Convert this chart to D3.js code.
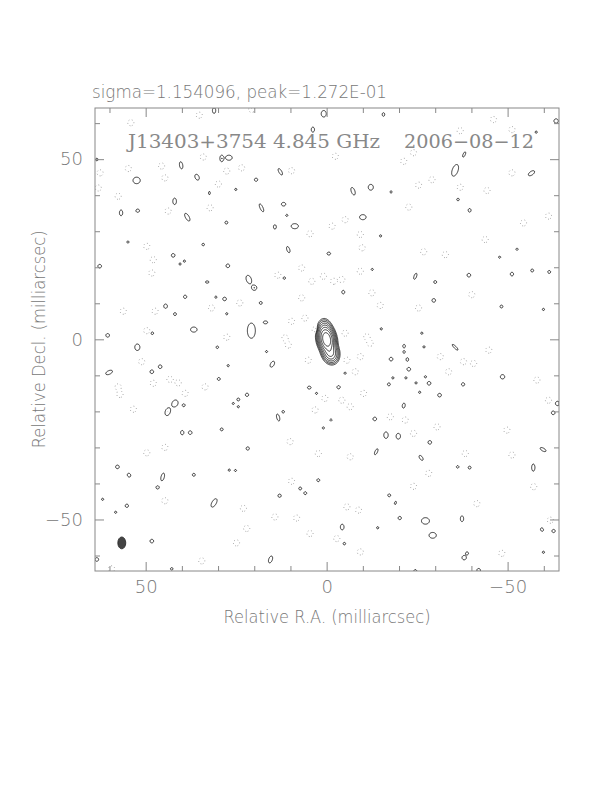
<!DOCTYPE html>
<html>
<head>
<meta charset="utf-8">
<script src="https://cdn.jsdelivr.net/npm/d3@7"></script>
<style>
  body { margin: 0; background: #fff; }
</style>
</head>
<body>
<div id="chart"></div>
<script>
// ---- chart data (milliarcsec) ----
const titleText = "sigma=1.154096, peak=1.272E-01";
const sourceName = "J13403+3754 4.845 GHz";
const obsDate = "2006\u221208\u221212";
const xLabel = "Relative R.A. (milliarcsec)";
const yLabel = "Relative Decl. (milliarcsec)";

const raRange = [64.0, -64.2];
const decRange = [-64.3, 64.2];
const majorTicks = [-50, 0, 50];
const minorTicks = [-60, -40, -30, -20, -10, 10, 20, 30, 40, 60];

// contour levels, as multiples of the lowest level (peak = 1)
const lowestLevel = 1 / 256;
const levelSteps = [1, 2, 4, 8, 16, 32, 64, 128];

// source model: [ra, dec, amplitude, sigma minor, sigma major, pa deg]
const sourceComps = [
  [0.0, 0.0, 1.0, 0.9, 1.5, -12],
  [-1.0, -3.6, 0.18, 0.95, 1.3, -15],
  [0.4, 2.8, 0.05, 0.85, 1.3, -10]
];

// positive noise islands: [ra, dec, half width, half height, tilt deg]
const posBlobs = [
  [31.1, 63.5, 0.45, 0.8, 0], [0.8, 62.6, 0.7, 0.9, 0], [3.8, 58.2, 0.45, 0.7, 0],
  [29.0, 50.2, 0.5, 0.9, 0], [27.0, 50.4, 0.9, 0.7, 0], [40.2, 48.3, 0.45, 1.0, -10],
  [12.8, 46.5, 0.4, 1.0, -30], [52.5, 44.1, 1.0, 0.9, 0], [35.8, 45.0, 0.55, 0.85, -25],
  [19.5, 44.3, 0.45, 0.45, 0], [42.0, 38.3, 0.5, 0.9, 0], [11.9, 37.5, 0.6, 0.5, 0],
  [18.0, 36.5, 0.4, 1.2, -25], [56.8, 35.1, 0.45, 0.8, 0], [52.2, 35.7, 0.5, 0.45, 0],
  [38.5, 33.9, 0.5, 1.2, -30], [27.7, 32.4, 0.4, 0.4, 0], [14.3, 31.2, 0.4, 0.6, 0],
  [8.8, 31.4, 1.0, 0.7, 0], [10.6, 24.9, 0.4, 0.9, -20], [34.1, 26.3, 0.35, 0.35, 0],
  [42.4, 23.3, 0.5, 0.5, 0], [27.3, 20.4, 0.5, 0.5, 0], [21.5, 16.6, 0.7, 1.2, -20],
  [20.0, 14.3, 0.7, 0.7, 0], [33.0, 15.9, 0.5, 0.3, 0], [11.7, 17.0, 0.35, 0.35, 0],
  [39.1, 11.8, 0.45, 0.45, 0], [28.2, 11.2, 0.5, 0.5, 0], [18.2, 10.1, 0.4, 0.4, 0],
  [44.5, 9.2, 0.5, 0.6, 0], [41.9, 7.0, 0.4, 0.4, 0], [16.9, 4.7, 0.6, 0.4, 0],
  [36.7, 2.7, 0.9, 0.7, 0], [20.8, 2.4, 1.1, 2.1, 0], [60.5, 1.1, 0.5, 0.5, 0],
  [48.2, 1.7, 0.4, 0.4, 0], [62.7, 20.3, 0.5, 0.5, 0], [54.9, 27.0, 0.3, 0.3, 0],
  [25.1, 41.6, 0.3, 0.3, 0], [39.3, 21.7, 0.3, 0.3, 0], [40.5, 20.9, 0.3, 0.3, 0],
  [30.6, 11.7, 0.3, 0.3, 0], [27.6, 7.1, 0.3, 0.3, 0], [11.0, 34.4, 0.3, 0.3, 0],
  [63.5, 49.9, 0.35, 0.35, 0], [32.4, 40.6, 0.25, 0.45, 0],

  [-15.7, 62.4, 0.35, 0.5, 0], [-57.9, 57.5, 0.3, 0.3, 0], [-38.0, 51.3, 0.3, 0.8, 25],
  [-35.5, 46.9, 0.8, 1.7, 20], [-56.6, 46.1, 0.5, 1.0, 55], [-7.3, 41.1, 0.5, 1.1, -20],
  [-12.2, 42.2, 0.7, 0.8, 0], [-17.8, 40.9, 0.3, 0.3, 0], [-36.3, 38.8, 0.35, 0.35, 0],
  [-39.5, 35.8, 0.4, 0.5, 0], [-10.0, 33.9, 0.9, 0.7, 0], [-14.9, 28.7, 0.3, 0.3, 0],
  [-0.6, 23.8, 0.5, 0.4, 0], [-12.6, 19.4, 0.3, 0.3, 0], [-24.5, 17.5, 0.35, 0.9, 20],
  [-39.3, 17.8, 0.5, 0.5, 0], [-51.2, 18.1, 0.45, 0.5, 0], [-56.8, 19.1, 0.4, 0.4, 0],
  [-61.5, 18.7, 0.4, 0.4, 0], [-30.0, 15.9, 0.4, 0.4, 0], [-4.6, 13.1, 0.4, 0.5, 0],
  [-29.6, 10.8, 0.5, 0.5, 0], [-48.3, 9.1, 0.4, 0.4, 0], [-52.6, 25.0, 0.3, 0.3, 0],
  [-47.8, 22.8, 0.3, 0.3, 0], [-59.9, 8.3, 0.3, 0.3, 0], [-15.1, 2.9, 0.3, 0.3, 0],
  [-26.3, 1.7, 0.3, 0.3, 0], [-63.4, 60.6, 0.6, 0.6, 0],

  [52.3, -2.2, 0.7, 0.9, 0], [30.2, -2.2, 0.35, 0.35, 0], [60.1, -9.2, 0.5, 1.0, 65],
  [48.3, -9.0, 0.5, 0.5, 0], [46.0, -7.6, 0.5, 0.5, 0], [15.0, -6.9, 0.5, 0.9, 30],
  [29.8, -11.0, 0.4, 0.4, 0], [41.9, -17.8, 0.8, 1.0, 30], [43.9, -20.1, 0.7, 1.1, 20],
  [39.5, -18.3, 0.4, 0.4, 0], [22.0, -15.4, 0.45, 0.45, 0], [24.4, -16.7, 0.4, 0.4, 0],
  [25.8, -17.8, 0.3, 0.3, 0], [24.4, -18.7, 0.3, 0.3, 0], [4.8, -13.4, 0.5, 0.4, 0],
  [13.4, -21.7, 0.4, 1.0, -15], [12.0, -20.1, 0.35, 0.35, 0], [39.9, -25.9, 0.45, 0.6, 0],
  [37.7, -25.9, 0.5, 0.5, 0], [29.0, -25.0, 0.4, 0.4, 0], [21.8, -30.3, 0.45, 0.45, 0],
  [57.8, -35.4, 0.5, 0.5, 0], [54.6, -37.7, 0.45, 0.55, -30], [45.3, -38.2, 0.45, 1.1, 15],
  [36.7, -37.6, 0.4, 0.4, 0], [46.7, -41.1, 0.45, 0.45, 0], [26.9, -36.3, 0.3, 0.3, 0],
  [25.2, -36.4, 0.3, 0.3, 0], [31.1, -45.4, 0.6, 1.3, 30], [55.2, -46.2, 0.45, 0.45, 0],
  [61.9, -44.4, 0.3, 0.3, 0], [58.3, -48.0, 0.3, 0.3, 0], [13.0, -43.4, 0.45, 0.45, 0],
  [7.3, -41.4, 0.4, 0.4, 0], [5.9, -42.7, 0.4, 0.4, 0], [2.3, -39.1, 0.4, 0.4, 0],
  [48.3, -56.0, 0.5, 0.5, 0], [15.5, -61.1, 0.5, 1.0, 20], [63.5, -61.1, 0.5, 0.5, 0],
  [42.8, -63.7, 0.35, 0.35, 0], [2.8, -15.0, 0.3, 0.3, 0], [0.9, -24.6, 0.3, 0.3, 0],
  [16.6, -3.4, 0.3, 0.3, 0], [27.2, -7.3, 0.3, 0.3, 0],

  [-21.4, -1.9, 0.35, 0.5, 0], [-21.4, -3.5, 0.35, 0.35, 0], [-35.5, -2.2, 0.3, 1.1, -45],
  [-17.8, -5.5, 0.5, 0.5, 0], [-22.3, -5.6, 0.35, 0.5, 0], [-22.7, -8.3, 0.5, 0.5, 0],
  [-48.6, -10.4, 0.6, 0.6, 0], [-28.3, -12.2, 0.5, 0.5, 0], [-37.7, -12.5, 0.45, 0.45, 0],
  [-17.2, -12.5, 0.4, 0.4, 0], [-21.9, -10.7, 0.3, 0.3, 0], [-18.3, -10.7, 0.3, 0.3, 0],
  [-27.3, -10.4, 0.3, 0.3, 0], [-3.3, -13.3, 0.45, 0.45, 0], [-31.2, -15.5, 0.5, 0.5, 0],
  [-21.3, -18.4, 0.4, 0.7, 10], [-13.3, -22.1, 0.5, 0.5, 0], [-16.4, -26.6, 0.6, 0.9, 0],
  [-19.8, -26.9, 0.6, 0.8, 0], [-28.5, -28.6, 0.5, 0.5, 0], [-13.7, -31.2, 0.35, 0.9, 25],
  [-26.1, -32.9, 0.4, 0.8, -35], [-36.2, -35.4, 0.35, 0.35, 0], [-39.5, -35.6, 0.4, 0.4, 0],
  [-59.8, -30.6, 0.4, 0.9, -60], [-57.1, -35.6, 0.45, 1.0, 0], [-62.6, -20.4, 0.5, 0.5, 0],
  [-63.8, -17.8, 0.6, 0.6, 0], [-17.3, -43.3, 0.4, 0.4, 0], [-19.0, -45.4, 0.25, 0.5, 20],
  [-20.2, -49.6, 0.45, 0.45, 0], [-27.3, -50.4, 1.1, 0.9, 0], [-29.3, -54.4, 1.0, 0.8, 0],
  [-37.4, -49.8, 0.45, 0.8, 0], [-4.3, -52.1, 0.5, 0.8, 0], [-4.9, -56.7, 0.35, 0.35, 0],
  [-59.5, -52.8, 0.4, 0.5, -30], [-62.7, -53.2, 0.45, 0.45, 0], [-38.0, -60.6, 0.6, 0.6, 0],
  [-38.8, -59.4, 0.4, 0.4, 0], [-24.5, -64.3, 0.4, 0.4, 0], [-42.0, -64.1, 0.5, 0.5, 0],
  [-14.1, -52.3, 0.3, 0.3, 0], [-1.2, -22.4, 0.3, 0.3, 0], [-5.1, -9.4, 0.3, 0.3, 0],
  [-26.9, -2.1, 0.3, 0.3, 0], [-24.7, -12.1, 0.3, 0.3, 0], [-25.7, -14.7, 0.3, 0.3, 0],
  [-59.9, -59.1, 0.3, 0.3, 0]
];

// negative noise islands (dotted): [ra, dec]
const negBlobs = [
  [35.2, 62.2], [54.1, 60.1], [34.1, 50.6], [45.6, 48.1], [54.8, 47.4], [23.5, 47.6],
  [9.7, 46.8], [44.7, 44.8], [62.6, 46.2], [63.1, 42.0], [57.6, 39.7], [29.9, 43.1],
  [32.2, 36.5], [43.8, 35.6], [49.7, 25.8], [48.3, 18.4], [47.9, 22.1], [13.5, 17.8],
  [4.1, 16.1], [0.9, 17.5], [6.9, 19.8], [6.0, 5.9], [3.2, 2.7], [56.2, 7.8],
  [47.4, 7.8], [31.8, 8.7], [24.0, 10.1], [6.9, 11.5], [9.7, 5.0], [49.7, 2.4],
  [27.6, 0.6], [11.5, 0.4], [20.7, 63.8], [4.6, 29.3], [27.6, 46.7],
  [-46.1, 61.0], [-36.9, 57.9], [-51.2, 58.2], [-2.4, 50.8], [-21.3, 49.4], [-24.0, 51.8],
  [-29.1, 44.3], [-25.4, 42.8], [-51.2, 46.2], [-44.3, 41.3], [-36.9, 42.2], [-1.5, 31.4],
  [-5.1, 33.2], [-9.3, 29.1], [-9.8, 25.4], [-26.8, 24.3], [-32.8, 23.5], [-43.8, 27.7],
  [-9.3, 18.9], [-1.9, 16.1], [-4.2, 16.6], [-12.5, 12.9], [-61.3, 34.2], [-54.4, 32.3],
  [-40.1, 12.4], [-25.4, 8.7], [-14.8, 9.4], [-11.1, 0.7], [-5.1, 1.7], [-22.7, 36.7],
  [57.6, -13.2], [57.1, -15.3], [47.9, -12.2], [43.3, -11.1], [41.0, -12.1], [39.1, -15.0],
  [49.7, -31.5], [44.7, -30.0], [44.7, -44.8], [23.0, -46.9], [24.9, -56.5], [14.3, -49.3],
  [10.1, -28.4], [2.3, -31.7], [0.5, -16.4], [10.6, -1.6], [5.1, -5.8], [8.3, -49.6],
  [34.5, -61.5], [59.4, -63.7], [22.1, -52.5], [3.2, -19.6], [9.7, -39.4], [4.6, -53.9],
  [53.4, -19.4], [51.1, -6.2], [33.6, -13.2],
  [-12.0, -1.1], [-5.6, -5.8], [-9.3, -4.8], [-7.9, -9.0], [-10.2, -15.0], [-4.2, -16.9],
  [-6.5, -18.7], [-21.7, -22.4], [-24.0, -26.1], [-30.5, -24.3], [-31.4, -4.8], [-37.8, -6.2],
  [-40.6, -6.7], [-33.7, -9.0], [-58.1, -11.3], [-61.3, -16.9], [-6.5, -32.6], [-38.3, -31.7],
  [-51.2, -32.1], [-49.8, -25.2], [-57.2, -40.9], [-41.5, -45.6], [-8.8, -47.4], [-5.6, -46.5],
  [-2.8, -55.3], [-9.3, -59.0], [-48.4, -59.4], [-61.8, -50.2], [-28.2, -37.2], [-24.0, -40.8],
  [-17.6, -21.5], [-44.8, -3.0]
];
const negRadius = 0.85;

// restoring beam: centre, full widths, tilt
const beamCentre = [56.6, -56.5];
const beamSize = [2.2, 3.3];
const beamTilt = 0;

// ---- drawing ----
const svg = d3.select('#chart').append('svg')
  .attr('width', 612)
  .attr('height', 792);

const plot = { left: 95, right: 559, top: 108, bottom: 571 };
const x = d3.scaleLinear().domain(raRange).range([plot.left, plot.right]);
const y = d3.scaleLinear().domain(decRange).range([plot.bottom, plot.top]);

// sample the model on a grid
const step = 0.2;
const nx = Math.ceil((raRange[0] - raRange[1]) / step);
const ny = Math.ceil((decRange[1] - decRange[0]) / step);
const grid = new Float64Array(nx * ny);

function addGauss(ra0, dec0, amp, sMin, sMaj, tilt) {
  const th = tilt * Math.PI / 180, c = Math.cos(th), s = Math.sin(th);
  const reach = 4.5 * Math.max(sMin, sMaj);
  const i0 = Math.max(0, Math.floor((raRange[0] - (ra0 + reach)) / step));
  const i1 = Math.min(nx - 1, Math.ceil((raRange[0] - (ra0 - reach)) / step));
  const j0 = Math.max(0, Math.floor((decRange[1] - (dec0 + reach)) / step));
  const j1 = Math.min(ny - 1, Math.ceil((decRange[1] - (dec0 - reach)) / step));
  for (let j = j0; j <= j1; j++) {
    const dy = (decRange[1] - (j + 0.5) * step) - dec0;
    for (let i = i0; i <= i1; i++) {
      const dx = -((raRange[0] - (i + 0.5) * step) - ra0);
      const u = dx * c - dy * s, v = dx * s + dy * c;
      grid[j * nx + i] += amp * Math.exp(-0.5 * (u * u / (sMin * sMin) + v * v / (sMaj * sMaj)));
    }
  }
}

const halfToSigma = 1 / Math.sqrt(2 * Math.log(2));
sourceComps.forEach(d => addGauss(d[0], d[1], d[2], d[3], d[4], d[5]));
posBlobs.forEach(d => addGauss(d[0], d[1], 2 * lowestLevel, d[2] * halfToSigma, d[3] * halfToSigma, d[4]));
negBlobs.forEach(d => addGauss(d[0], d[1], -2 * lowestLevel, negRadius * halfToSigma, negRadius * halfToSigma, 0));

const negGrid = grid.map(v => -v);

const proj = d3.geoTransform({
  point: function(gx, gy) {
    this.stream.point(x(raRange[0] - gx * step), y(decRange[1] - gy * step));
  }
});
const path = d3.geoPath(proj);

svg.append('clipPath').attr('id', 'plot-clip')
  .append('rect')
  .attr('x', plot.left).attr('y', plot.top)
  .attr('width', plot.right - plot.left).attr('height', plot.bottom - plot.top);

const g = svg.append('g').attr('clip-path', 'url(#plot-clip)');

const posContours = d3.contours().size([nx, ny])
  .thresholds(levelSteps.map(k => k * lowestLevel))(grid);
const negContours = d3.contours().size([nx, ny])
  .thresholds([lowestLevel])(negGrid);

g.append('g').selectAll('path')
  .data(negContours)
  .enter().append('path')
    .attr('d', path)
    .attr('fill', 'none')
    .attr('stroke', '#777')
    .attr('stroke-width', 0.8)
    .attr('stroke-dasharray', '0.8,2.6');

g.append('g').selectAll('path')
  .data(posContours)
  .enter().append('path')
    .attr('d', path)
    .attr('fill', 'none')
    .attr('stroke', '#222')
    .attr('stroke-width', 0.9);

// beam
g.append('ellipse')
  .attr('cx', x(beamCentre[0]))
  .attr('cy', y(beamCentre[1]))
  .attr('rx', Math.abs(x(beamSize[0] / 2) - x(0)))
  .attr('ry', Math.abs(y(beamSize[1] / 2) - y(0)))
  .attr('transform', 'rotate(' + beamTilt + ',' + x(beamCentre[0]) + ',' + y(beamCentre[1]) + ')')
  .attr('fill', '#444')
  .attr('stroke', '#222')
  .attr('stroke-width', 0.8);

// frame and ticks
const axisColor = '#888';
const textColor = '#777';
const font = '"DejaVu Sans", "Liberation Sans", sans-serif';

function styleAxis(sel) {
  sel.select('.domain').remove();
  sel.selectAll('.tick line').attr('stroke', axisColor);
  sel.selectAll('.tick text')
    .attr('fill', textColor)
    .attr('font-family', font)
    .attr('font-weight', 200)
    .attr('font-size', 18);
}

svg.append('g').attr('transform', 'translate(0,' + plot.bottom + ')')
  .call(d3.axisBottom(x).tickValues(minorTicks).tickSize(-5).tickFormat(''))
  .call(styleAxis);
svg.append('g').attr('transform', 'translate(0,' + plot.bottom + ')')
  .call(d3.axisBottom(x).tickValues(majorTicks).tickSize(-9).tickPadding(9).tickFormat(d3.format('d')))
  .call(styleAxis);
svg.append('g').attr('transform', 'translate(0,' + plot.top + ')')
  .call(d3.axisTop(x).tickValues(minorTicks).tickSize(-5).tickFormat(''))
  .call(styleAxis);
svg.append('g').attr('transform', 'translate(0,' + plot.top + ')')
  .call(d3.axisTop(x).tickValues(majorTicks).tickSize(-9).tickFormat(''))
  .call(styleAxis);
svg.append('g').attr('transform', 'translate(' + plot.left + ',0)')
  .call(d3.axisLeft(y).tickValues(minorTicks).tickSize(-5).tickFormat(''))
  .call(styleAxis);
svg.append('g').attr('transform', 'translate(' + plot.left + ',0)')
  .call(d3.axisLeft(y).tickValues(majorTicks).tickSize(-9).tickPadding(12).tickFormat(d3.format('d')))
  .call(styleAxis);
svg.append('g').attr('transform', 'translate(' + plot.right + ',0)')
  .call(d3.axisRight(y).tickValues(minorTicks).tickSize(-5).tickFormat(''))
  .call(styleAxis);
svg.append('g').attr('transform', 'translate(' + plot.right + ',0)')
  .call(d3.axisRight(y).tickValues(majorTicks).tickSize(-9).tickFormat(''))
  .call(styleAxis);

svg.append('rect')
  .attr('x', plot.left).attr('y', plot.top)
  .attr('width', plot.right - plot.left).attr('height', plot.bottom - plot.top)
  .attr('fill', 'none')
  .attr('stroke', axisColor)
  .attr('stroke-width', 1);

// texts
svg.append('text')
  .attr('x', 92).attr('y', 98)
  .attr('textLength', 295).attr('lengthAdjust', 'spacingAndGlyphs')
  .attr('font-family', font).attr('font-weight', 200).attr('font-size', 17)
  .attr('fill', textColor)
  .text(titleText);

svg.append('text')
  .attr('x', 128).attr('y', 148)
  .attr('textLength', 252).attr('lengthAdjust', 'spacingAndGlyphs')
  .attr('font-family', '"DejaVu Serif", "Liberation Serif", serif').attr('font-weight', 200).attr('font-size', 19)
  .attr('fill', '#888')
  .text(sourceName);

svg.append('text')
  .attr('x', 404).attr('y', 148)
  .attr('textLength', 130).attr('lengthAdjust', 'spacingAndGlyphs')
  .attr('font-family', '"DejaVu Serif", "Liberation Serif", serif').attr('font-weight', 200).attr('font-size', 19)
  .attr('fill', '#888')
  .text(obsDate);

svg.append('text')
  .attr('x', (plot.left + plot.right) / 2).attr('y', 623)
  .attr('text-anchor', 'middle')
  .attr('textLength', 207).attr('lengthAdjust', 'spacingAndGlyphs')
  .attr('font-family', font).attr('font-weight', 200).attr('font-size', 17)
  .attr('fill', textColor)
  .text(xLabel);

svg.append('text')
  .attr('transform', 'translate(45,' + y(0) + ') rotate(-90)')
  .attr('text-anchor', 'middle')
  .attr('textLength', 218).attr('lengthAdjust', 'spacingAndGlyphs')
  .attr('font-family', font).attr('font-weight', 200).attr('font-size', 17)
  .attr('fill', textColor)
  .text(yLabel);
</script>
</body>
</html>
